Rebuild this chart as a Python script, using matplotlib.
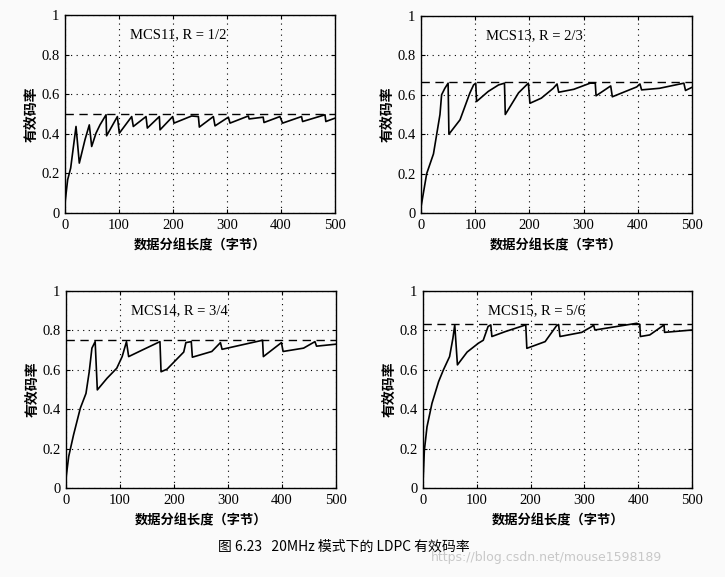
import matplotlib
matplotlib.use("Agg")
import matplotlib.pyplot as plt
from matplotlib.ticker import FuncFormatter

# ---------------- data ----------------
titles = ["MCS11, R = 1/2", "MCS13, R = 2/3", "MCS14, R = 3/4", "MCS15, R = 5/6"]
rates = [1/2, 2/3, 3/4, 5/6]

mcs11_x = [0, 4.9, 10.5, 20.4, 26.5, 37, 45, 49.4, 57.4, 64.8, 76, 77, 97, 100.6,
           123.5, 126.5, 150, 152.5, 174.7, 176, 199.4, 201.9, 234.6, 247, 248.8,
           274.7, 277.8, 302.5, 305.6, 339.5, 341, 367, 368.5, 398, 403, 438, 440,
           481.5, 483, 500]
mcs11_y = [0.05, 0.168, 0.227, 0.437, 0.252, 0.37, 0.445, 0.336, 0.403, 0.445,
           0.496, 0.39, 0.487, 0.403, 0.487, 0.437, 0.487, 0.429, 0.487, 0.42,
           0.487, 0.454, 0.49, 0.487, 0.434, 0.487, 0.44, 0.484, 0.454, 0.49,
           0.475, 0.484, 0.457, 0.487, 0.454, 0.487, 0.462, 0.496, 0.462, 0.479]

mcs13_x = [0, 10.5, 23, 35, 38, 44, 50, 51.5, 72, 90, 97, 101, 102.5, 124, 143,
           154, 155.5, 180, 198, 201, 222, 244, 251, 254, 282, 312, 321.5, 323,
           350, 353, 398, 404, 407, 440, 485, 488, 500]
mcs13_y = [0.03, 0.2, 0.3, 0.5, 0.6, 0.633, 0.659, 0.4, 0.473, 0.608, 0.65,
           0.659, 0.566, 0.617, 0.65, 0.659, 0.5, 0.61, 0.659, 0.557, 0.583,
           0.633, 0.655, 0.613, 0.628, 0.659, 0.659, 0.595, 0.645, 0.59, 0.64,
           0.655, 0.625, 0.633, 0.659, 0.622, 0.638]

mcs14_x = [0, 5, 14, 26.5, 37, 43, 48, 54, 58, 76, 94, 104, 112, 116, 141, 174,
           176, 187, 218, 222, 232, 234, 270, 286, 289, 364, 365.5, 399, 402,
           440, 461, 464, 500]
mcs14_y = [0.05, 0.16, 0.27, 0.405, 0.48, 0.59, 0.71, 0.743, 0.498, 0.557,
           0.608, 0.667, 0.743, 0.667, 0.70, 0.743, 0.59, 0.603, 0.69, 0.738,
           0.743, 0.664, 0.693, 0.738, 0.704, 0.75, 0.667, 0.738, 0.693, 0.71,
           0.743, 0.72, 0.73]

mcs15_x = [0, 2.5, 7.4, 16.7, 29, 38, 49.4, 55.6, 59, 64, 82, 103, 112, 121, 126,
           128, 153, 191, 193, 227, 248, 252, 254.6, 295, 314, 317, 319.5, 397,
           403, 404, 421.5, 444, 448, 449, 500]
mcs15_y = [0.03, 0.19, 0.31, 0.43, 0.54, 0.6, 0.667, 0.76, 0.828, 0.625, 0.69,
           0.735, 0.75, 0.82, 0.828, 0.769, 0.794, 0.828, 0.709, 0.743, 0.823,
           0.83, 0.769, 0.79, 0.82, 0.828, 0.802, 0.836, 0.83, 0.769, 0.777,
           0.82, 0.828, 0.79, 0.802]

xs = [mcs11_x, mcs13_x, mcs14_x, mcs15_x]
ys = [mcs11_y, mcs13_y, mcs14_y, mcs15_y]

x_ticks = [0, 100, 200, 300, 400, 500]
y_ticks = [0, 0.2, 0.4, 0.6, 0.8, 1.0]
x_label = "数据分组长度（字节）"
y_label = "有效码率"
caption = "图 6.23   20MHz 模式下的 LDPC 有效码率"
watermark = "https://blog.csdn.net/mouse1598189"

# ---------------- figure ----------------
W, H = 725, 577
bg = "#fafafa"
fig = plt.figure(figsize=(W / 100, H / 100), dpi=100, facecolor=bg)

def box(l, t, r, b):
    return [l / W, 1 - b / H, (r - l) / W, (b - t) / H]

positions = [box(65, 15, 335, 213), box(421, 16, 692, 213),
             box(66, 291, 336, 488), box(423, 291, 692, 488)]

serif = ["Liberation Serif", "DejaVu Serif"]
cjk = ["Noto Sans CJK SC", "DejaVu Sans"]

def yfmt(v, _):
    s = f"{v:.1f}"
    if s == "0.0":
        return "0"
    if s == "1.0":
        return "1"
    return s

for i in range(4):
    ax = fig.add_axes(positions[i])
    ax.set_facecolor(bg)
    ax.plot(xs[i], ys[i], color="black", lw=1.2)
    ax.axhline(rates[i], color="black", lw=1.0, ls=(0, (6, 4)))
    ax.set_xlim(0, 500)
    ax.set_ylim(0, 1)
    ax.set_xticks(x_ticks)
    ax.set_yticks(y_ticks)
    ax.yaxis.set_major_formatter(FuncFormatter(yfmt))
    ax.grid(True, color="black", ls=(0, (1, 4)), lw=0.8)
    ax.tick_params(direction="in", length=3, width=0.8, top=True, right=True,
                   labelsize=10.5, pad=4)
    for lab in ax.get_xticklabels() + ax.get_yticklabels():
        lab.set_family(serif)
    for sp in ax.spines.values():
        sp.set_linewidth(1.0)
    ax.text(120, 0.9, titles[i], family=serif, fontsize=10.5, va="center", ha="left")
    ax.set_xlabel(x_label, family=cjk, fontsize=9.5, fontweight="bold", labelpad=5)
    ax.set_ylabel(y_label, family=cjk, fontsize=10, fontweight="bold", labelpad=2)

fig.text(344 / W, 1 - 547 / H, caption, family=cjk, fontsize=10, ha="center", va="center")
fig.text(547 / W, 1 - 558 / H, watermark, family=["DejaVu Sans"], fontsize=9,
         color="#c8c8c8", ha="center", va="center")

fig.savefig("out.png", dpi=100, facecolor=bg)
